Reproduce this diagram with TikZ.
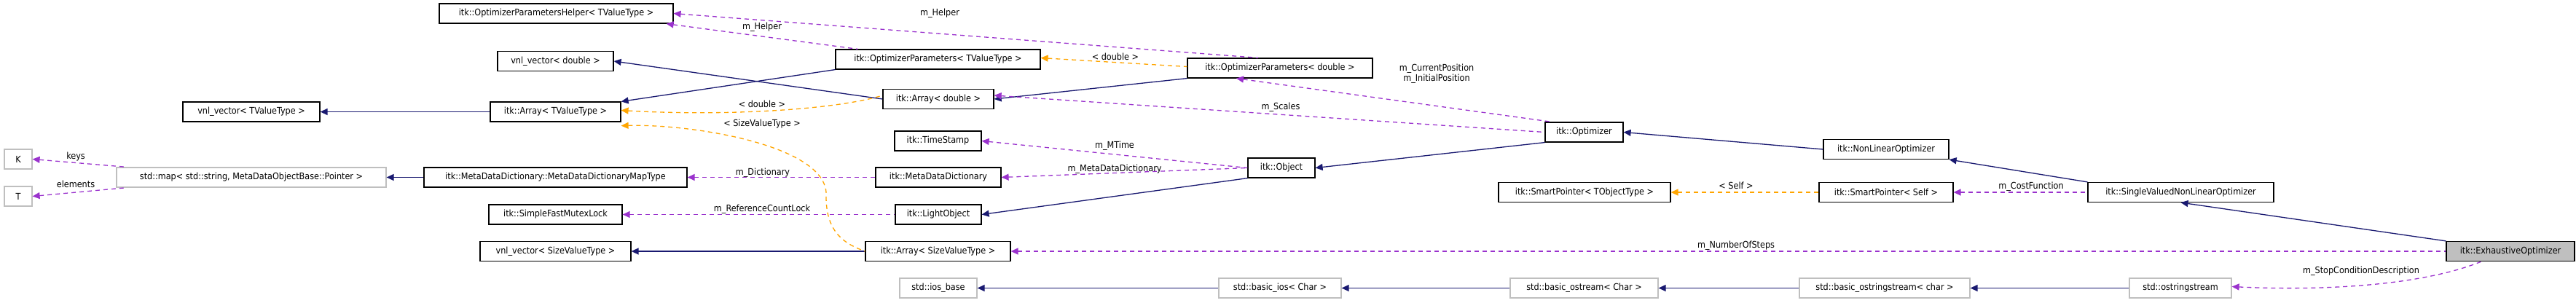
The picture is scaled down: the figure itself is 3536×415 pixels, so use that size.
\documentclass[tikz,border=0pt]{standalone}
\usepackage{fontspec}
\setmainfont{DejaVu Sans Condensed}
\usetikzlibrary{arrows.meta}
\definecolor{inh}{HTML}{191970}
\definecolor{use}{HTML}{9A32CD}
\definecolor{tpl}{HTML}{FFA500}
\definecolor{gb}{HTML}{BFBFBF}
\begin{document}
\begin{tikzpicture}[x=1pt,y=-1pt,
  box/.style={draw=black,line width=1.2pt,minimum height=27pt,inner sep=0pt,font=\fontsize{12.5}{14}\selectfont},
  gbox/.style={box,draw=gb},
  lab/.style={font=\fontsize{12.5}{14}\selectfont,inner sep=0pt},
  inhe/.style={draw=inh,line width=1.3pt,{Triangle[length=10pt,width=9pt]}-},
  usee/.style={draw=use,line width=1.3pt,dash pattern=on 6pt off 5pt,{Triangle[length=10pt,width=9pt]}-},
  tple/.style={draw=tpl,line width=1.3pt,dash pattern=on 6pt off 5pt,{Triangle[length=10pt,width=9pt]}-}]
\useasboundingbox (0,0) rectangle (3536,415);
% nodes
\node[box,minimum width=321pt] (helper) at (763.5,18.5) {itk::OptimizerParametersHelper< TValueType >};
\node[box,minimum width=159pt] (vecd) at (762.5,84) {vnl\_vector< double >};
\node[box,minimum width=188pt] (vecT) at (345,153.5) {vnl\_vector< TValueType >};
\node[box,minimum width=179pt] (arrT) at (762.5,153.5) {itk::Array< TValueType >};
\node[gbox,minimum width=38pt] (K) at (25,218.5) {K};
\node[gbox,minimum width=38pt] (T) at (25,269.5) {T};
\node[gbox,minimum width=370pt] (map) at (345,243.5) {std::map< std::string, MetaDataObjectBase::Pointer >};
\node[box,minimum width=361pt] (maptype) at (762.5,243.5) {itk::MetaDataDictionary::MetaDataDictionaryMapType};
\node[box,minimum width=183pt] (mutex) at (762.5,294.5) {itk::SimpleFastMutexLock};
\node[box,minimum width=207pt] (vecS) at (762.5,345) {vnl\_vector< SizeValueType >};
\node[box,minimum width=281pt] (optT) at (1287.5,81.5) {itk::OptimizerParameters< TValueType >};
\node[box,minimum width=152pt] (arrd) at (1288,136) {itk::Array< double >};
\node[box,minimum width=119pt] (ts) at (1287.5,193.5) {itk::TimeStamp};
\node[box,minimum width=172pt] (mdd) at (1288,243.5) {itk::MetaDataDictionary};
\node[box,minimum width=118pt] (lo) at (1288,294.5) {itk::LightObject};
\node[box,minimum width=199pt] (arrS) at (1287.5,345) {itk::Array< SizeValueType >};
\node[gbox,minimum width=106pt] (iosb) at (1288,395.5) {std::ios\_base};
\node[gbox,minimum width=168pt] (bios) at (1757,395.5) {std::basic\_ios< Char >};
\node[box,minimum width=92pt] (obj) at (1759,230.5) {itk::Object};
\node[box,minimum width=254pt] (optd) at (1757,93.5) {itk::OptimizerParameters< double >};
\node[box,minimum width=107pt] (opt) at (2174.5,181.5) {itk::Optimizer};
\node[box,minimum width=172pt] (nlo) at (2589,205) {itk::NonLinearOptimizer};
\node[box,minimum width=236pt] (spT) at (2175,264) {itk::SmartPointer< TObjectType >};
\node[box,minimum width=184pt] (spS) at (2589,264) {itk::SmartPointer< Self >};
\node[gbox,minimum width=203pt] (bos) at (2174.5,395.5) {std::basic\_ostream< Char >};
\node[gbox,minimum width=234pt] (bostr) at (2587,395.5) {std::basic\_ostringstream< char >};
\node[gbox,minimum width=140pt] (ostr) at (2993,395.5) {std::ostringstream};
\node[box,minimum width=255pt] (svnlo) at (2993.5,264) {itk::SingleValuedNonLinearOptimizer};
\node[box,fill=gb,minimum width=176pt] (exh) at (3446,345) {itk::ExhaustiveOptimizer};
% inheritance
\draw[inhe] (vecT) -- (arrT);
\draw[inhe] (arrT.north east) -- (optT.south west);
\draw[inhe] (vecd.east) -- (arrd.west);
\draw[inhe] (arrd.east) -- (optd.south west);
\draw[inhe] (map) -- (maptype);
\draw[inhe] (lo.east) -- (obj.south west);
\draw[inhe] (obj.east) -- (opt.south west);
\draw[inhe] (opt.east) -- (nlo.west);
\draw[inhe] (nlo.south east) -- (svnlo.north west);
\draw[inhe] (svnlo.south) -- (exh.north west);
\draw[inhe] (vecS) -- (arrS);
\draw[inhe] (iosb) -- (bios);
\draw[inhe] (bios) -- (bos);
\draw[inhe] (bos) -- (bostr);
\draw[inhe] (bostr) -- (ostr);
% usage
\draw[usee] ([xshift=-10pt]helper.south east) -- ([xshift=-110pt]optT.north);
\draw[usee] (helper.east) -- ([xshift=-30pt]optd.north);
\draw[usee] ([xshift=-60pt]optd.south) -- ([xshift=10pt]opt.north west);
\draw[usee] ([yshift=5pt]arrd.east) -- (opt.west);
\draw[usee] (ts.east) -- (obj.west);
\draw[usee] (mdd.east) -- (obj.west);
\draw[usee] (maptype.east) -- (mdd.west);
\draw[usee] (mutex.east) -- (lo.west);
\draw[usee] (K.east) -- ([xshift=15pt]map.north west);
\draw[usee] (T.east) -- ([xshift=15pt]map.south west);
\draw[usee] (spS.east) -- (svnlo.west);
\draw[usee] (arrS.east) -- (exh.west);
\draw[usee] ([yshift=2pt]ostr.east) .. controls (3200,400) and (3330,390) .. ([xshift=-40pt]exh.south);
% template
\draw[tple] ([yshift=2pt]optT.east) -- ([yshift=2pt]optd.west);
\draw[tple] ([yshift=2pt]arrT.east) .. controls (1000,160) and (1150,150) .. ([yshift=5pt]arrd.west);
\draw[tple] ([yshift=-5pt]arrT.south east) .. controls (950,170) and (1140,200) .. (1134,270) .. controls (1134,320) and (1160,335) .. (arrS.west);
\draw[tple] (spT) -- (spS);
% labels
\node[lab] (l1) at (1290,18) {m\_Helper};
\node[lab] (l2) at (1046,37) {m\_Helper};
\node[lab] (l3) at (1531,78) {< double >};
\node[lab] (l4) at (1046,143) {< double >};
\node[lab] (l5) at (1046,170) {< SizeValueType >};
\node[lab] (l6) at (1758,147) {m\_Scales};
\node[lab,align=center] (l7) at (1972,101) {m\_CurrentPosition\\m\_InitialPosition};
\node[lab] (l8) at (1530,200) {m\_MTime};
\node[lab] (l9) at (1530,232) {m\_MetaDataDictionary};
\node[lab] (l10) at (1047,237) {m\_Dictionary};
\node[lab] (l11) at (1046,287) {m\_ReferenceCountLock};
\node[lab] (l12) at (104,215) {keys};
\node[lab] (l13) at (104,253) {elements};
\node[lab] (l14) at (2383,255) {< Self >};
\node[lab] (l15) at (2788,256) {m\_CostFunction};
\node[lab] (l16) at (2383,337) {m\_NumberOfSteps};
\node[lab] (l17) at (3241,372) {m\_StopConditionDescription};
\end{tikzpicture}
\end{document}
